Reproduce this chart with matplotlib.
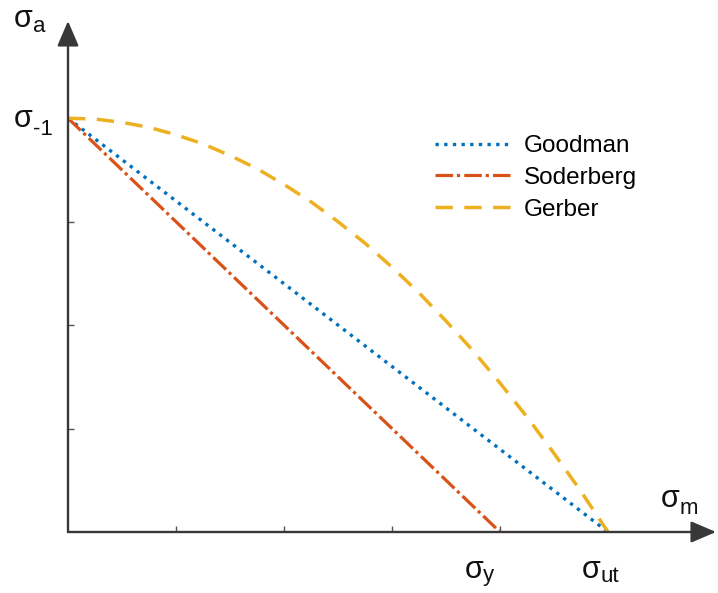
import matplotlib
matplotlib.use("Agg")
import matplotlib.pyplot as plt

plt.rcParams["font.family"] = ["Liberation Sans", "DejaVu Sans"]

# stress values, sigma_-1 = 1, sigma_y = 4, sigma_ut = 5
goodman_x = [0.0, 5.0]
goodman_y = [1.0, 0.0]
soderberg_x = [0.0, 4.0]
soderberg_y = [1.0, 0.0]
gerber_x = [0.0, 0.25, 0.5, 0.75, 1.0, 1.25, 1.5, 1.75, 2.0, 2.25, 2.5,
            2.75, 3.0, 3.25, 3.5, 3.75, 4.0, 4.25, 4.5, 4.75, 5.0]
gerber_y = [1.0, 0.998, 0.99, 0.978, 0.96, 0.938, 0.91, 0.878, 0.84, 0.798, 0.75,
            0.698, 0.64, 0.578, 0.51, 0.438, 0.36, 0.278, 0.19, 0.098, 0.0]
x_ticks = [1, 2, 3, 4]
y_ticks = [0.25, 0.5, 0.75]
subscripts = ["a", "-1", "m", "y", "ut"]

W, H = 718, 593


def px(x, y):
    return x / W, 1 - y / H


fig = plt.figure(figsize=(W / 100, H / 100), dpi=100)
ax = fig.add_axes([68 / W, (H - 532) / H, 648 / W, 511 / H])
ax.set_xlim(0, 6.0)
ax.set_ylim(0, 1.235)

ax.plot(goodman_x, goodman_y, color="#0072BD", lw=2.4, linestyle=(0, (1, 1.6)),
        label="Goodman", clip_on=False)
ax.plot(soderberg_x, soderberg_y, color="#D95319", lw=2.3,
        linestyle=(0, (5.5, 1.2, 1, 1.3)), label="Soderberg", clip_on=False)
ax.plot(gerber_x, gerber_y, color="#EDB120", lw=2.5, linestyle=(0, (5.0, 3.3)),
        label="Gerber", clip_on=False)

# axes drawn as arrows
for s in ax.spines.values():
    s.set_visible(False)
arrow = dict(arrowstyle="-|>,head_length=0.7,head_width=0.3", color="#383838",
             lw=1.7, shrinkA=0, shrinkB=0, mutation_scale=22)
ax.annotate("", xy=(1, 0), xytext=(0, 0), xycoords="axes fraction",
            textcoords="axes fraction", arrowprops=arrow)
ax.annotate("", xy=(0, 1), xytext=(0, 0), xycoords="axes fraction",
            textcoords="axes fraction", arrowprops=arrow)

ax.set_xticks(x_ticks)
ax.set_yticks(y_ticks)
ax.set_xticklabels([])
ax.set_yticklabels([])
ax.tick_params(direction="in", length=4, width=1, color="#555555")

# sigma symbols with subscripts: (sigma x, sigma baseline, sub x, sub baseline)
spots = [(14, 27, 33, 32), (14, 127, 33, 135), (661, 507, 680, 514),
         (465, 578, 483, 581), (582, 578, 600, 582)]
for sub, (sx, sy, bx, by) in zip(subscripts, spots):
    fig.text(*px(sx, sy), "σ", fontsize=22, ha="left", va="baseline", color="#111111")
    fig.text(*px(bx, by), sub, fontsize=16, ha="left", va="baseline", color="#111111")

ax.legend(loc="upper left", bbox_to_anchor=px(435, 135), bbox_transform=fig.transFigure,
          frameon=False, fontsize=17.5, handlelength=3.1, handletextpad=0.55,
          labelspacing=0.41, borderpad=0, borderaxespad=0)

fig.savefig("out.png", dpi=100)
